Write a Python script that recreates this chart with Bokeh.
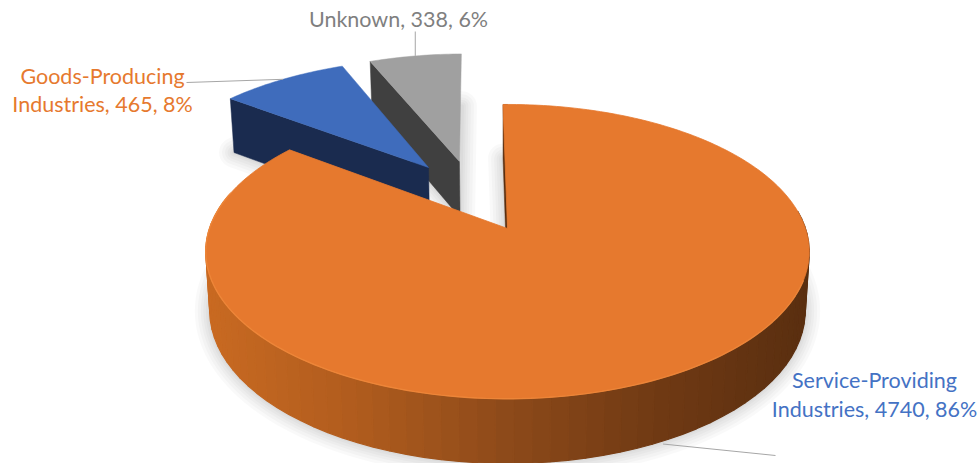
import numpy as np
from bokeh.plotting import figure
from bokeh.models import Range1d
from bokeh.core.properties import value
from bokeh.embed import file_html
from bokeh.resources import INLINE

# --- data ---
categories = ["Service-Providing Industries", "Goods-Producing Industries", "Unknown"]
values = [4740, 465, 338]
percents = [86, 8, 6]

# --- styles ---
TOP = ["#E6792E", "#3F6CBC", "#A0A0A0"]
WALL = [None, "#1A2B4F", "#404040"]
TEXT = ["#4472C4", "#E6792E", "#7F7F7F"]
EXPLODE = [(0.0, 0.0), (-0.284, -0.455), (-0.174, -0.504)]
FONT = "Lato"
FS = "21.5px"

# projection of the tilted disc
CX, CY_TOP, CY_BOT = 507.0, 228.0, 286.6
BX_TOP, BX_BOT, AY_TOP, AY_BOT, K = 298.0, 294.0, 143.5, 148.7, 0.157
START = -1.0


def proj(theta, r=1.0, off=(0.0, 0.0), bottom=False):
    t = np.radians(np.asarray(theta, dtype=float))
    u = r * np.sin(t) + off[0]
    v = -r * np.cos(t) + off[1]
    d = 1 - K * v
    if bottom:
        return CX + BX_BOT * u / d, CY_BOT + AY_BOT * v / d
    return CX + BX_TOP * u / d, CY_TOP + AY_TOP * v / d


def wedge(a0, a1, off, bottom=False):
    th = np.linspace(a0, a1, int(abs(a1 - a0)) + 2)
    x, y = proj(th, 1.0, off, bottom)
    ax, ay = proj(0.0, 0.0, off, bottom)
    return np.r_[ax, x, ax], np.r_[ay, y, ay]


total = sum(values)
sweeps = [v / total * 360 for v in values]
starts = START + np.r_[0, np.cumsum(sweeps)[:-1]]
ends = starts + np.array(sweeps)

p = figure(width=979, height=463, output_backend="svg", toolbar_location=None,
           x_range=Range1d(0, 979), y_range=Range1d(463, 0),
           min_border=0, outline_line_color=None, background_fill_color="white",
           border_fill_color="white")
p.axis.visible = False
p.grid.visible = False

# soft floor shadows
for i in [2, 1, 0]:
    fx, fy = wedge(starts[i], ends[i], EXPLODE[i], bottom=True)
    for w in [30, 24, 18, 13, 8, 4]:
        p.line(fx, fy, line_color="#000000", line_alpha=0.022, line_width=w, line_join="round")

# gray and blue slices: radial wall then top face
for i in [2, 1]:
    off = EXPLODE[i]
    ax, ay = proj(0.0, 0.0, off)
    ox, oy = proj(starts[i], 1.0, off)
    bx, by = proj(starts[i], 1.0, off, bottom=True)
    cx, cy = proj(0.0, 0.0, off, bottom=True)
    p.patch([ax, ox, bx, cx], [ay, oy, by, cy], fill_color=WALL[i], line_color=WALL[i], line_width=0.5)
    tx, ty = wedge(starts[i], ends[i], off)
    p.patch(tx, ty, fill_color=TOP[i], line_color=TOP[i], line_width=0.5)

# orange slice: radial wall, outer wall strips (visible front part), top face
ax, ay = proj(0.0)
ox, oy = proj(starts[0])
bx, by = proj(starts[0], bottom=True)
cx, cy = proj(0.0, 0.0, bottom=True)
p.patch([ax, ox, bx, cx], [ay, oy, by, cy], fill_color="#5A2F10", line_color="#5A2F10", line_width=0.5)

stops_t = [0.0, 0.25, 0.5, 0.75, 1.0]
stops_c = np.array([[0xC9, 0x6A, 0x22], [0xB0, 0x5C, 0x1E], [0x8D, 0x4A, 0x1A],
                    [0x70, 0x3A, 0x14], [0x5A, 0x2F, 0x10]], dtype=float)
edges = np.arange(83.0, 285.0, 3.0)
xs, ys, cols = [], [], []
for a, b in zip(edges[:-1], edges[1:]):
    x0, y0 = proj(a)
    x1, y1 = proj(b)
    x2, y2 = proj(b, bottom=True)
    x3, y3 = proj(a, bottom=True)
    t = ((x0 + x1) / 2 - 206) / 604
    rgb = [int(np.interp(t, stops_t, stops_c[:, k])) for k in range(3)]
    xs.append([x0, x1, x2, x3])
    ys.append([y0, y1, y2, y3])
    cols.append("#%02X%02X%02X" % tuple(rgb))
p.patches(xs, ys, fill_color=cols, line_color=cols, line_width=1.2)

tx, ty = wedge(starts[0], ends[0], EXPLODE[0])
p.patch(tx, ty, fill_color=TOP[0], line_color=TOP[0], line_width=0.8)
rx, ry = proj(np.linspace(110, 285, 120))
p.line(rx, ry, line_color="#F08A3C", line_width=1.4, line_alpha=0.8)

# leader lines from each slice's mid-angle
mid = (starts + ends) / 2
lx, ly = proj(mid[0], 1.0, EXPLODE[0], bottom=True)
p.line([lx, 775], [ly + 3, 455], line_color="#A6A6A6", line_width=1)
lx, ly = proj(mid[1], 1.0, EXPLODE[1])
p.line([186, lx], [82, ly], line_color="#A6A6A6", line_width=1)
lx, ly = proj(mid[2], 1.0, EXPLODE[2])
p.line([lx, lx], [31, ly], line_color="#A6A6A6", line_width=1)

# data labels
lab = [
    (["Service-Providing", f"Industries, {values[0]}, {percents[0]}%"], 874, [379, 408]),
    (["Goods-Producing", f"Industries, {values[1]}, {percents[1]}%"], 102, [75, 103]),
    ([f"{categories[2]}, {values[2]}, {percents[2]}%"], 398, [18]),
]
for i, (lines, x, yy) in enumerate(lab):
    p.text([x] * len(lines), yy, text=lines, text_color=TEXT[i], text_font=value(FONT),
           text_font_size=FS, text_align="center", text_baseline="middle")

open("out.html", "w").write(file_html(p, INLINE))
